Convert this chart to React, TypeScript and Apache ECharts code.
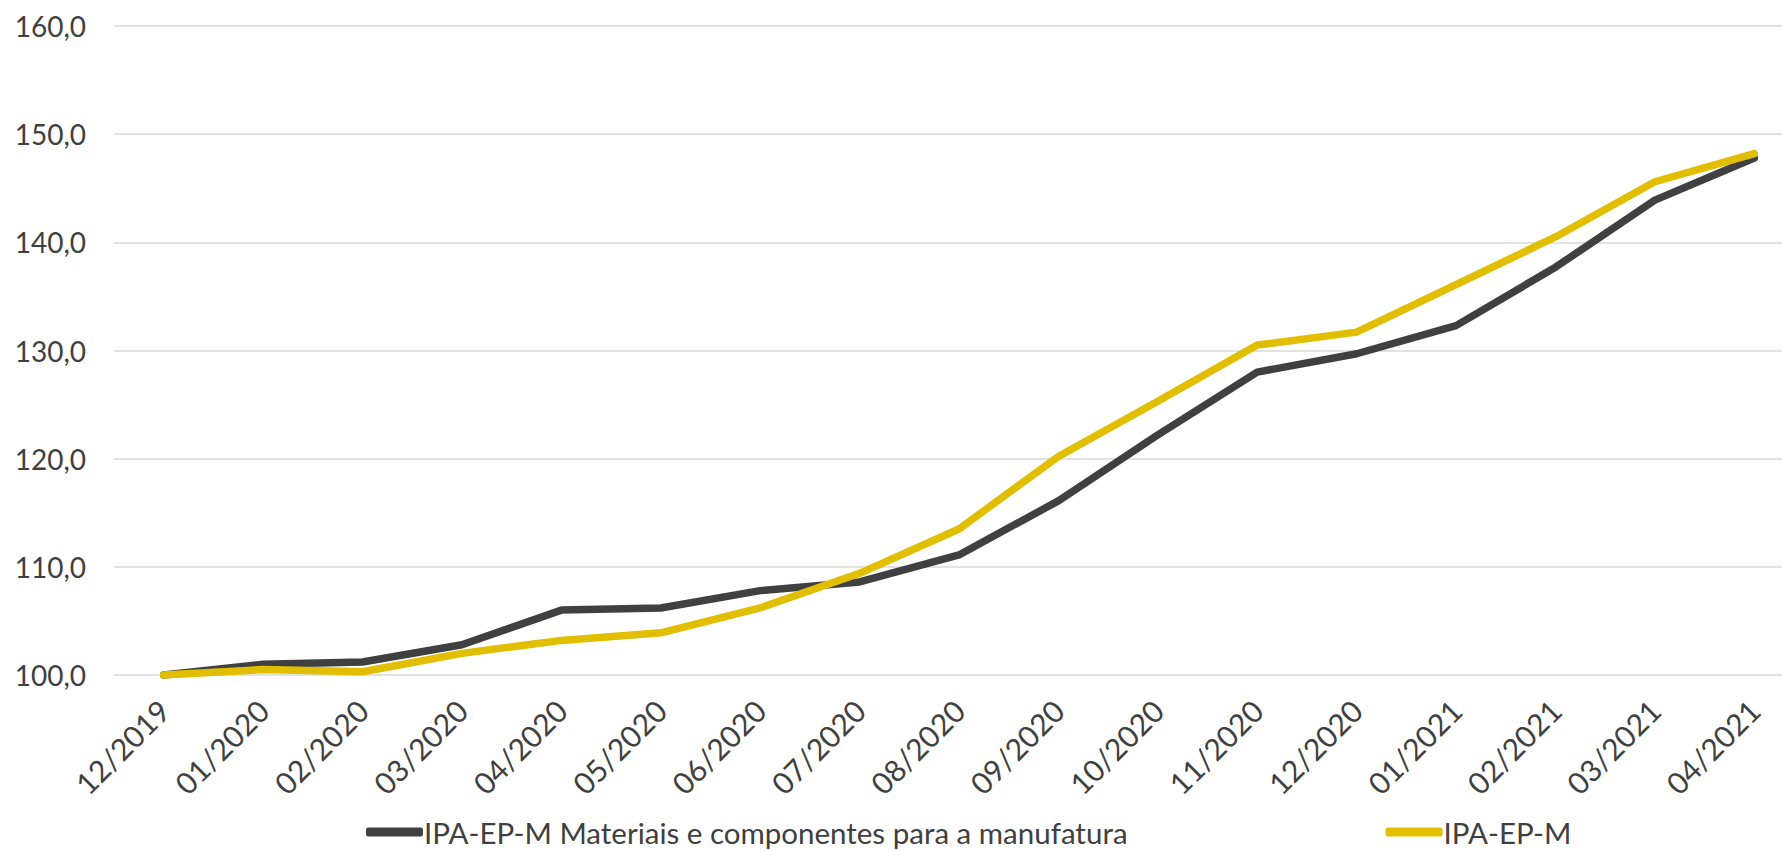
import React, { useEffect, useRef } from "react";
import * as echarts from "echarts";

const categories = [
  "12/2019", "01/2020", "02/2020", "03/2020", "04/2020", "05/2020", "06/2020",
  "07/2020", "08/2020", "09/2020", "10/2020", "11/2020", "12/2020", "01/2021",
  "02/2021", "03/2021", "04/2021",
];

const materiais = [
  100.0, 101.0, 101.2, 102.8, 106.0, 106.2, 107.8, 108.6, 111.1, 116.1, 122.2,
  128.0, 129.7, 132.3, 137.7, 143.9, 147.8,
];

const ipaEpM = [
  100.0, 100.5, 100.3, 102.0, 103.2, 103.9, 106.2, 109.4, 113.5, 120.2, 125.3,
  130.5, 131.7, 136.1, 140.5, 145.6, 148.2,
];

const seriesNames = ["IPA-EP-M Materiais e componentes para a manufatura", "IPA-EP-M"];

const FONT = "Lato";
const TEXT = "#404040";

export default function App() {
  const ref = useRef<HTMLDivElement>(null);
  useEffect(() => {
    if (!ref.current) return;
    const chart = echarts.init(ref.current, null, { renderer: "svg" });
    chart.setOption({
      animation: false,
      backgroundColor: "#ffffff",
      textStyle: { fontFamily: FONT },
      grid: { left: 114, top: 26, width: 1690, height: 649, containLabel: false },
      legend: {
        left: 361,
        top: 812,
        itemGap: 258,
        itemWidth: 57,
        itemHeight: 9,
        icon: "roundRect",
        textStyle: {
          fontFamily: FONT,
          fontSize: 29.5,
          lineHeight: 30,
          color: TEXT,
          padding: [0, 0, 0, -4],
        },
        data: seriesNames,
      },
      xAxis: {
        type: "category",
        data: categories,
        boundaryGap: true,
        axisLine: { show: false },
        axisTick: { show: false },
        axisLabel: {
          rotate: 45,
          interval: 0,
          margin: 30,
          fontFamily: FONT,
          fontSize: 30,
          color: TEXT,
        },
        splitLine: { show: false },
      },
      yAxis: {
        type: "value",
        min: 100,
        max: 160,
        interval: 10,
        axisLine: { show: false },
        axisTick: { show: false },
        axisLabel: {
          margin: 28,
          fontFamily: FONT,
          fontSize: 28,
          color: TEXT,
          formatter: (v: number) => v.toFixed(1).replace(".", ","),
        },
        splitLine: { lineStyle: { color: "#D9D9D9", width: 1.5 } },
      },
      series: [
        {
          name: seriesNames[0],
          type: "line",
          data: materiais,
          showSymbol: false,
          symbol: "none",
          lineStyle: { color: "#404040", width: 7.5, cap: "round", join: "round" },
          itemStyle: { color: "#404040" },
        },
        {
          name: seriesNames[1],
          type: "line",
          data: ipaEpM,
          showSymbol: false,
          symbol: "none",
          lineStyle: { color: "#E2BE00", width: 7.5, cap: "round", join: "round" },
          itemStyle: { color: "#E2BE00" },
        },
      ],
    });
    return () => chart.dispose();
  }, []);
  return (
    <div
      style={{
        position: "fixed",
        left: 0,
        top: 0,
        width: 1782,
        height: 851,
        overflow: "hidden",
        background: "#fff",
      }}
    >
      <div ref={ref} style={{ width: 1810, height: 851 }} />
    </div>
  );
}
